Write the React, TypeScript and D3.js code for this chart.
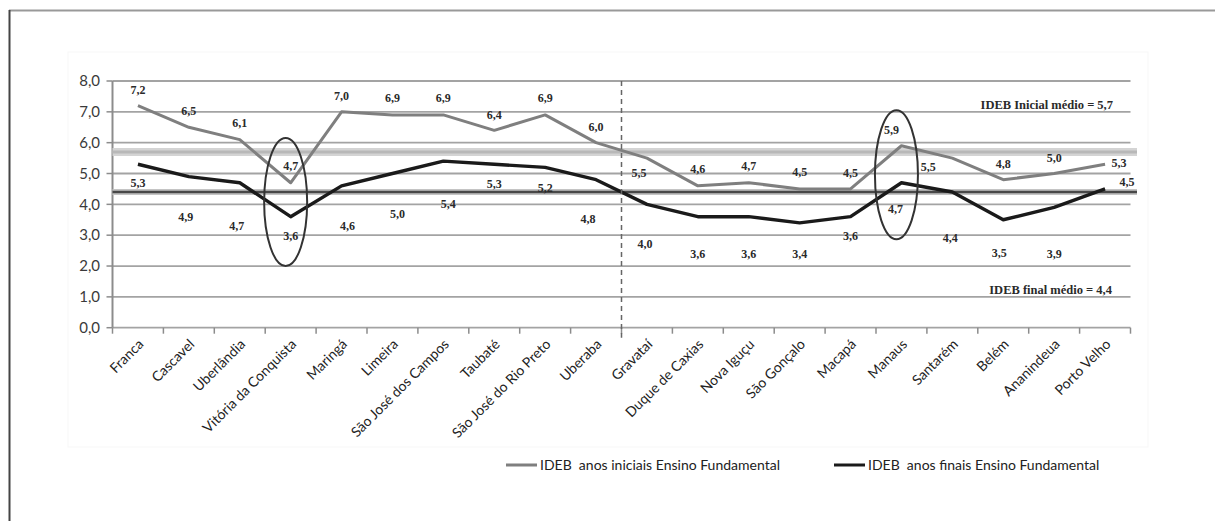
import * as d3 from "d3";
import { useEffect, useRef } from "react";

// cities on the x axis (first 10 = best, last 10 = worst)
const cities = [
    "Franca", "Cascavel", "Uberlândia", "Vitória da Conquista", "Maringá",
    "Limeira", "São José dos Campos", "Taubaté", "São José do Rio Preto", "Uberaba",
    "Gravataí", "Duque de Caxias", "Nova Iguçu", "São Gonçalo", "Macapá",
    "Manaus", "Santarém", "Belém", "Ananindeua", "Porto Velho",
];

const iniciais = [7.2, 6.5, 6.1, 4.7, 7.0, 6.9, 6.9, 6.4, 6.9, 6.0, 5.5, 4.6, 4.7, 4.5, 4.5, 5.9, 5.5, 4.8, 5.0, 5.3];
const finais = [5.3, 4.9, 4.7, 3.6, 4.6, 5.0, 5.4, 5.3, 5.2, 4.8, 4.0, 3.6, 3.6, 3.4, 3.6, 4.7, 4.4, 3.5, 3.9, 4.5];

const mediaInicial = 5.7;
const mediaFinal = 4.4;

const yTicks = [0, 1, 2, 3, 4, 5, 6, 7, 8];

// highlighted cities (ellipses), in data units
const destaques = [
    { city: "Vitória da Conquista", low: 2.0, high: 6.15 },
    { city: "Manaus", low: 2.87, high: 7.05 },
];

// hand-placed label nudges (px), as in the original figure
const iniLabelOff = [
    [0, -16], [0, -16], [0, -17], [0, -17], [0, -16], [0, -17], [0, -17], [0, -16], [0, -17], [0, -16],
    [-8, 15], [0, -17], [0, -17], [0, -17], [0, -16], [-10, -16], [-24, 9], [0, -16], [0, -16], [14, -1],
];
const finLabelOff = [
    [0, 19], [-3, 40], [-3, 43], [0, 19], [6, 40], [5, 40], [5, 43], [0, 20], [0, 20], [-8, 39],
    [-2, 39], [0, 37], [0, 37], [0, 31], [0, 19], [-6, 26], [-2, 46], [-4, 33], [0, 46], [22, -7],
];

const ptBR = d3.formatLocale({ decimal: ",", thousands: ".", grouping: [3], currency: ["R$", ""] });
const fmt = ptBR.format(".1f");

const App: React.FC = () => {
    const svgRef = useRef<SVGSVGElement | null>(null);

    useEffect(() => {
        const svg = d3.select(svgRef.current);
        svg.selectAll("*").remove();

        const width = 1215, height = 521;
        const left = 112.5, right = 1130.5, top = 81, bottom = 327.7;

        const x = d3.scaleBand().domain(cities).range([left, right]).padding(0);
        const cx = (c: string) => (x(c) as number) + x.bandwidth() / 2;
        const y = d3.scaleLinear().domain([0, 8]).range([bottom, top]);

        svg.append("rect").attr("width", width).attr("height", height).attr("fill", "#fff");

        // ** Outer frame **
        svg.append("line").attr("x1", 9).attr("x2", width).attr("y1", 10.5).attr("y2", 10.5)
            .attr("stroke", "#999").attr("stroke-width", 2);
        svg.append("line").attr("x1", 9.5).attr("x2", 9.5).attr("y1", 10).attr("y2", height)
            .attr("stroke", "#444").attr("stroke-width", 2);

        // faint plot-area box
        svg.append("rect").attr("x", 68).attr("y", 52).attr("width", 1080).attr("height", 395)
            .attr("fill", "none").attr("stroke", "#f7f7f7").attr("stroke-width", 1);

        // ** Gridlines **
        svg.append("g").selectAll("line").data(yTicks).join("line")
            .attr("x1", left).attr("x2", right)
            .attr("y1", d => y(d)).attr("y2", d => y(d))
            .attr("stroke", "#a3a3a3").attr("stroke-width", 1.8);

        // ** Y axis **
        svg.append("line").attr("x1", left).attr("x2", left).attr("y1", top).attr("y2", bottom)
            .attr("stroke", "#8c8c8c").attr("stroke-width", 2);
        svg.append("g").selectAll("line").data(yTicks).join("line")
            .attr("x1", left - 6).attr("x2", left).attr("y1", d => y(d)).attr("y2", d => y(d))
            .attr("stroke", "#8c8c8c").attr("stroke-width", 1.5);
        svg.append("g").selectAll("text").data(yTicks).join("text")
            .attr("x", 100).attr("y", d => y(d)).attr("dy", "0.35em")
            .attr("text-anchor", "end")
            .style("font-family", "Lato, sans-serif").style("font-size", "15px").attr("fill", "#3a3a3a")
            .text(d => fmt(d));

        // ** X ticks at band edges **
        const edges = [...cities.map(c => x(c) as number), right];
        svg.append("g").selectAll("line").data(edges).join("line")
            .attr("x1", d => d).attr("x2", d => d).attr("y1", bottom).attr("y2", bottom + 6)
            .attr("stroke", "#8c8c8c").attr("stroke-width", 1.5);

        svg.append("g").selectAll("text").data(cities).join("text")
            .attr("transform", d => `translate(${cx(d) + 3},${bottom + 14}) rotate(-45)`)
            .attr("text-anchor", "end").attr("dy", "0.35em")
            .style("font-family", "Lato, sans-serif").style("font-size", "14px").attr("fill", "#222")
            .text(d => d);

        // ** Mean bands **
        svg.append("line").attr("x1", left).attr("x2", 1137).attr("y1", y(mediaInicial)).attr("y2", y(mediaInicial))
            .attr("stroke", "#d4d4d4").attr("stroke-width", 8);
        svg.append("line").attr("x1", left).attr("x2", 1137).attr("y1", y(mediaInicial)).attr("y2", y(mediaInicial))
            .attr("stroke", "#b8b8b8").attr("stroke-width", 3);
        svg.append("line").attr("x1", left).attr("x2", 1137).attr("y1", y(mediaFinal)).attr("y2", y(mediaFinal))
            .attr("stroke", "#c4c4c4").attr("stroke-width", 6);
        svg.append("line").attr("x1", left).attr("x2", 1137).attr("y1", y(mediaFinal)).attr("y2", y(mediaFinal))
            .attr("stroke", "#484848").attr("stroke-width", 2.6);

        // ** Series lines **
        const line = d3.line<number>().x((_, i) => cx(cities[i])).y(d => y(d));
        svg.append("path").attr("d", line(iniciais)).attr("fill", "none")
            .attr("stroke", "#7f7f7f").attr("stroke-width", 3).attr("stroke-linejoin", "round");
        svg.append("path").attr("d", line(finais)).attr("fill", "none")
            .attr("stroke", "#1a1a1a").attr("stroke-width", 3.4).attr("stroke-linejoin", "round");

        // ** Data labels **
        const labelStyle = (sel: d3.Selection<any, any, any, any>) => sel
            .attr("text-anchor", "middle").attr("dy", "0.35em")
            .style("font-family", "'Liberation Serif', 'Times New Roman', serif")
            .style("font-weight", "bold").style("font-size", "12px").attr("fill", "#2a2a2a");

        svg.append("g").selectAll("text").data(iniciais).join("text")
            .attr("x", (d, i) => cx(cities[i]) + iniLabelOff[i][0])
            .attr("y", (d, i) => y(d) + iniLabelOff[i][1])
            .call(labelStyle)
            .text(d => fmt(d));
        svg.append("g").selectAll("text").data(finais).join("text")
            .attr("x", (d, i) => cx(cities[i]) + finLabelOff[i][0])
            .attr("y", (d, i) => y(d) + finLabelOff[i][1])
            .call(labelStyle)
            .text(d => fmt(d));

        // ** Mean annotations **
        svg.append("text").attr("x", 1113).attr("y", y(7.25)).call(labelStyle)
            .attr("text-anchor", "end").style("font-size", "12.5px")
            .text(`IDEB Inicial médio = ${fmt(mediaInicial)}`);
        svg.append("text").attr("x", 1112).attr("y", y(1.25)).call(labelStyle)
            .attr("text-anchor", "end").style("font-size", "12.5px")
            .text(`IDEB final médio = ${fmt(mediaFinal)}`);

        // ** Ellipses **
        svg.append("g").selectAll("ellipse").data(destaques).join("ellipse")
            .attr("cx", d => cx(d.city) - 5)
            .attr("cy", d => (y(d.low) + y(d.high)) / 2)
            .attr("rx", 21.5)
            .attr("ry", d => (y(d.low) - y(d.high)) / 2)
            .attr("fill", "none").attr("stroke", "#333").attr("stroke-width", 2);

        // ** Dashed divider between groups **
        const xDiv = x("Gravataí") as number;
        svg.append("line").attr("x1", xDiv).attr("x2", xDiv).attr("y1", top).attr("y2", bottom + 10)
            .attr("stroke", "#666").attr("stroke-width", 1.5).attr("stroke-dasharray", "5,4");

        // ** Legend **
        const legend = [
            { label: "IDEB  anos iniciais Ensino Fundamental", color: "#7f7f7f", x0: 506 },
            { label: "IDEB  anos finais Ensino Fundamental", color: "#1a1a1a", x0: 834 },
        ];
        const lg = svg.append("g").selectAll("g").data(legend).join("g")
            .attr("transform", d => `translate(${d.x0},465)`);
        lg.append("line").attr("x1", 0).attr("x2", 31).attr("stroke", d => d.color).attr("stroke-width", 3);
        lg.append("text").attr("x", 34).attr("dy", "0.35em")
            .style("font-family", "Lato, sans-serif").style("font-size", "14px").style("white-space", "pre")
            .attr("fill", "#222")
            .text(d => d.label);
    }, []);

    return (
        <div style={{ position: "absolute", left: 0, top: 0 }}>
            <svg ref={svgRef} width={1215} height={521} style={{ display: "block" }} />
        </div>
    );
};

export default App;
